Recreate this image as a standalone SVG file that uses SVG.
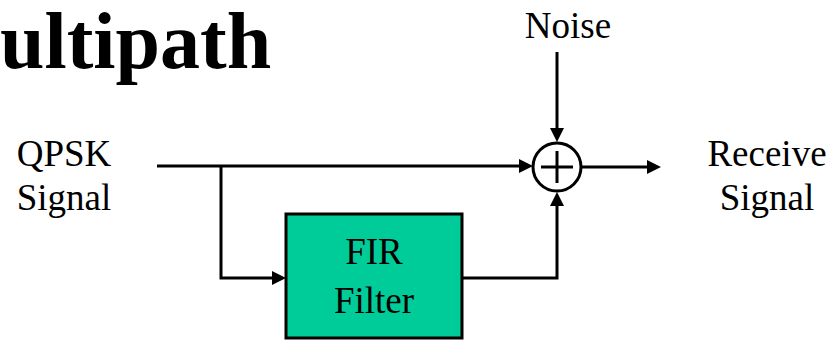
<svg xmlns="http://www.w3.org/2000/svg" width="837" height="343" viewBox="0 0 837 343">
<style>
text{font-family:"Liberation Serif","Times New Roman",serif;fill:#000}
.lbl{font-size:37px}
.title{font-size:80px;font-weight:bold}
.ln{stroke:#000;stroke-width:3;fill:none}
</style>
<rect width="837" height="343" fill="#fff"/>
<text class="title" x="0" y="68">ultipath</text>
<g id="noise"><text class="lbl" x="568" y="38" text-anchor="middle">Noise</text></g>
<g id="qpsk"><text class="lbl" x="64" y="166" text-anchor="middle">QPSK</text><text class="lbl" x="64" y="210" text-anchor="middle">Signal</text></g>
<g id="receive"><text class="lbl" x="767" y="166" text-anchor="middle">Receive</text><text class="lbl" x="767" y="210" text-anchor="middle">Signal</text></g>
<g id="fir"><rect x="286" y="214" width="176" height="124" fill="#00CC99" stroke="#000" stroke-width="3"/><text class="lbl" x="374" y="264" text-anchor="middle">FIR</text><text class="lbl" x="374" y="313" text-anchor="middle">Filter</text></g>
<g id="sum"><circle cx="557" cy="167" r="24" fill="#fff" stroke="#000" stroke-width="3"/><path class="ln" d="M541,167H573M557,151V183"/></g>
<g id="connectors">
<path class="ln" d="M157,166H519"/>
<path d="M519,159L533,166L519,173z" fill="#000"/>
<path class="ln" d="M221,166V278H272"/>
<path d="M272,271L286,278L272,285z" fill="#000"/>
<path class="ln" d="M557,52V128"/>
<path d="M550,128L557,142L564,128z" fill="#000"/>
<path class="ln" d="M462,278H557V206"/>
<path d="M550,206L557,192L564,206z" fill="#000"/>
<path class="ln" d="M581,167H647"/>
<path d="M647,160L661,167L647,174z" fill="#000"/>
</g>
</svg>
